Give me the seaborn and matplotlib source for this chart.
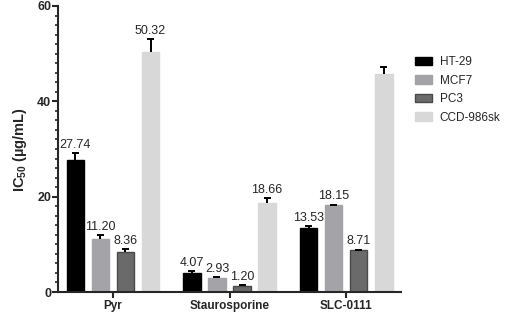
import matplotlib
matplotlib.use("Agg")
import matplotlib.pyplot as plt
import numpy as np
import pandas as pd
import seaborn as sns
from matplotlib.ticker import MultipleLocator

# data
compounds = ["Pyr", "Staurosporine", "SLC-0111"]
cell_lines = ["HT-29", "MCF7", "PC3", "CCD-986sk"]
ic50 = {
    "HT-29":     [27.74, 4.07, 13.53],
    "MCF7":      [11.20, 2.93, 18.15],
    "PC3":       [8.36, 1.20, 8.71],
    "CCD-986sk": [50.32, 18.66, 45.80],
}
err = {
    "HT-29":     [1.5, 0.35, 0.35],
    "MCF7":      [0.7, 0.25, 0.2],
    "PC3":       [0.7, 0.25, 0.2],
    "CCD-986sk": [2.8, 1.05, 1.3],
}
labels = {
    "HT-29":     ["27.74", "4.07", "13.53"],
    "MCF7":      ["11.20", "2.93", "18.15"],
    "PC3":       ["8.36", "1.20", "8.71"],
    "CCD-986sk": ["50.32", "18.66", ""],
}
colors = ["#000000", "#a3a3a8", "#6a6a6a", "#d8d8d8"]
edges = ["#000000", "#a3a3a8", "#4a4a4a", "#d8d8d8"]

rows = []
for cl in cell_lines:
    for i, c in enumerate(compounds):
        rows.append({"compound": c, "cell": cl, "ic50": ic50[cl][i]})
df = pd.DataFrame(rows)

sns.set_style("ticks")
plt.rcParams["font.family"] = ["Liberation Sans", "DejaVu Sans"]
plt.rcParams["mathtext.fontset"] = "custom"
plt.rcParams["mathtext.bf"] = "Liberation Sans:bold"

fig = plt.figure(figsize=(5.05, 3.14), dpi=100)
ax = fig.add_axes([0.115, 0.070, 0.679, 0.911])

sns.barplot(data=df, x="compound", y="ic50", hue="cell", order=compounds,
            hue_order=cell_lines, palette=colors, width=0.86, gap=0.3,
            errorbar=None, ax=ax, saturation=1)

cap = 0.03
for k, (cl, cont) in enumerate(zip(cell_lines, ax.containers)):
    xs = np.array([p.get_x() + p.get_width() / 2 for p in cont.patches])
    for p in cont.patches:
        p.set_edgecolor(edges[k])
        p.set_linewidth(1.0)
    tops = np.array(ic50[cl]) + np.array(err[cl])
    # upward-only error bars with a single top cap
    ax.vlines(xs, ic50[cl], tops, color="black", lw=1.4, zorder=3)
    ax.hlines(tops, xs - cap, xs + cap, color="black", lw=1.4, zorder=3)
    for x, top, t in zip(xs, tops, labels[cl]):
        if t:
            ax.annotate(t, (x, top), xytext=(0, 1.5), textcoords="offset points",
                        ha="center", va="bottom", fontsize=9)

ax.set_xlim(-0.47, 2.47)
ax.set_ylim(0, 60)
ax.yaxis.set_major_locator(MultipleLocator(20))
ax.yaxis.set_minor_locator(MultipleLocator(2))
ax.tick_params(axis="y", which="major", length=4, width=1.5, labelsize=9, pad=1)
ax.tick_params(axis="y", which="minor", length=2.5, width=1.2)
ax.tick_params(axis="x", length=4, width=1.5, labelsize=8.5, pad=2)
for lab in ax.get_xticklabels() + ax.get_yticklabels():
    lab.set_fontweight("bold")
ax.set_xlabel("")
ax.set_ylabel("IC$_{\\mathbf{50}}$ (\u00b5g/mL)", fontsize=10.5, fontweight="bold", labelpad=6)
for s in ["left", "bottom"]:
    ax.spines[s].set_linewidth(1.5)
sns.despine(ax=ax)

handles, hl = ax.get_legend_handles_labels()
for h, ec in zip(handles, edges):
    h.set_edgecolor(ec)
ax.legend(handles, hl, loc="upper left", bbox_to_anchor=(1.04, 0.825), frameon=False,
          fontsize=8.5, handlelength=1.45, handleheight=0.7, labelspacing=0.55,
          handletextpad=0.68, borderaxespad=0, borderpad=0)

fig.savefig("out.png", dpi=100)
